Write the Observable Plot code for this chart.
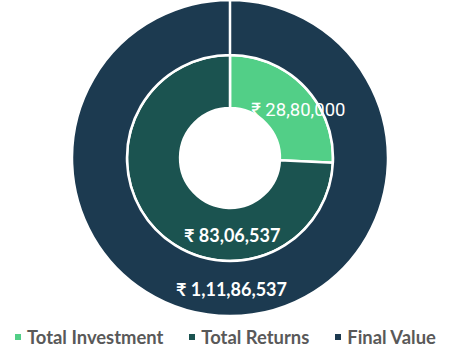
<!DOCTYPE html>
<html>
<head>
<meta charset="utf-8">
<script src="https://cdn.jsdelivr.net/npm/d3@7"></script>
<script src="https://cdn.jsdelivr.net/npm/@observablehq/plot@0.6"></script>
<style>
  html, body { margin: 0; padding: 0; background: #fff; }
  #chart { width: 469px; }
  .legend { display: flex; align-items: center; gap: 26px; padding-left: 15px; height: 42px;
    font-family: Lato, sans-serif; font-weight: 700; font-size: 18.4px; color: #595959; }
  .legend .item { display: flex; align-items: center; }
  .legend .sw { width: 6px; height: 6px; margin-right: 6px; }
</style>
</head>
<body>
<div id="chart"></div>
<script>
// ---- data ----
const categories = ["Total Investment", "Total Returns", "Final Value"];
const values = [2880000, 8306537, 11186537];
const colors = ["#52cf87", "#1b5350", "#1c3a50"];
const ringOf = ["inner", "inner", "outer"];

const fmt = v => "₹ " + v.toLocaleString("en-IN");

// ring geometry (unit radius = outer edge)
const rings = {outer: [0.652, 1.0], inner: [0.316, 0.652]};

// compute angles per ring
const slices = [];
for (const ring of ["inner", "outer"]) {
  const idx = categories.map((c, i) => i).filter(i => ringOf[i] === ring);
  const pie = d3.pie().sort(null).value(i => values[i]).endAngle(2 * Math.PI * 0.99999)(idx);
  for (const p of pie) {
    slices.push({
      name: categories[p.data], value: values[p.data], color: colors[p.data],
      startAngle: p.startAngle, endAngle: p.endAngle,
      innerRadius: rings[ring][0], outerRadius: rings[ring][1]
    });
  }
}
// unit-space centroids for labels
const unitArc = d3.arc();
for (const s of slices) {
  const [cx, cy] = unitArc.centroid(s);
  s.cx = cx; s.cy = -cy;
}

const arcsMark = (index, scales, values_, dims) => {
  const x0 = scales.x(0), y0 = scales.y(0);
  const R = scales.x(1) - x0;
  const arc = d3.arc();
  const g = d3.create("svg:g").attr("transform", `translate(${x0},${y0})`);
  g.selectAll("path")
    .data(slices)
    .join("path")
    .attr("d", d => arc({...d, innerRadius: d.innerRadius * R, outerRadius: d.outerRadius * R}))
    .attr("fill", d => d.color)
    .attr("stroke", "#fff")
    .attr("stroke-width", 2.5)
    .attr("stroke-linejoin", "round");
  return g.node();
};

const byName = n => slices.filter(s => s.name === n);

const plot = Plot.plot({
  width: 469,
  height: 316,
  marginLeft: 72,
  marginRight: 81,
  marginTop: 0,
  marginBottom: 0,
  x: {domain: [-1, 1], axis: null},
  y: {domain: [-1, 1], axis: null},
  marks: [
    arcsMark,
    Plot.text(byName("Total Investment"), {x: "cx", y: "cy", text: d => fmt(d.value), dx: 12.5, dy: 4,
      fill: "#fff", fontSize: 18.5, fontFamily: "Roboto", fontWeight: 400}),
    Plot.text(byName("Total Returns"), {x: "cx", y: "cy", text: d => fmt(d.value), dx: 57, dy: 25,
      fill: "#fff", fontSize: 18, fontFamily: "Lato, sans-serif", fontWeight: 700}),
    Plot.text(byName("Final Value"), {x: "cx", y: "cy", text: d => fmt(d.value), dx: 1, dy: 1.5,
      fill: "#fff", fontSize: 18, fontFamily: "Lato, sans-serif", fontWeight: 700})
  ]
});

const chart = document.getElementById("chart");
chart.appendChild(plot);

const legend = document.createElement("div");
legend.className = "legend";
categories.forEach((c, i) => {
  const item = document.createElement("div");
  item.className = "item";
  const sw = document.createElement("span");
  sw.className = "sw";
  sw.style.background = colors[i];
  const t = document.createElement("span");
  t.textContent = c;
  item.appendChild(sw);
  item.appendChild(t);
  legend.appendChild(item);
});
chart.appendChild(legend);
</script>
</body>
</html>
